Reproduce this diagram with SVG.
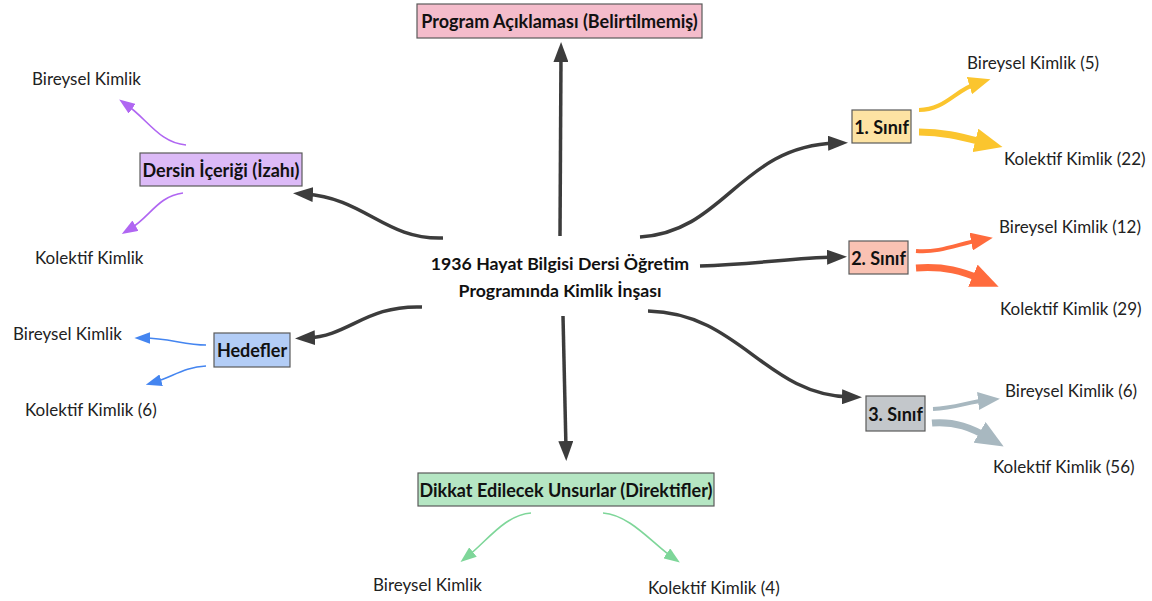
<svg xmlns="http://www.w3.org/2000/svg" width="1152" height="601" viewBox="0 0 1152 601">
<style>
.box{stroke:#5a5a5a;stroke-width:1.2}
.nt{font-family:Lato,"Liberation Sans",sans-serif;font-weight:bold;font-size:18px;fill:#111;text-anchor:middle;dominant-baseline:central}
.lt{font-family:Lato,"Liberation Sans",sans-serif;font-size:17px;fill:#222;dominant-baseline:central}
.ct{font-family:Lato,"Liberation Sans",sans-serif;font-weight:bold;font-size:17.7px;fill:#111;text-anchor:middle;dominant-baseline:central}
.dk{fill:none;stroke:#3c3c3c;stroke-width:3.5;marker-end:url(#mDk)}
.c{fill:none}
</style>
<defs>
<marker id="mDk" markerUnits="userSpaceOnUse" viewBox="0 0 20 15" markerWidth="20" markerHeight="15" refX="8" refY="7.5" orient="auto"><path d="M0,0 L20,7.5 L0,15 z" fill="#3c3c3c"/></marker>
<marker id="mPu" markerUnits="userSpaceOnUse" viewBox="0 0 16 12" markerWidth="16" markerHeight="12" refX="6.4" refY="6" orient="auto"><path d="M0,0 L16,6 L0,12 z" fill="#b066f2"/></marker>
<marker id="mBl" markerUnits="userSpaceOnUse" viewBox="0 0 16 12" markerWidth="16" markerHeight="12" refX="6.4" refY="6" orient="auto"><path d="M0,0 L16,6 L0,12 z" fill="#4485f0"/></marker>
<marker id="mGr" markerUnits="userSpaceOnUse" viewBox="0 0 16 12" markerWidth="16" markerHeight="12" refX="6.4" refY="6" orient="auto"><path d="M0,0 L16,6 L0,12 z" fill="#7ed699"/></marker>
<marker id="mYs" markerUnits="userSpaceOnUse" viewBox="0 0 22 18" markerWidth="22" markerHeight="18" refX="9" refY="9" orient="auto"><path d="M0,0 L22,9 L0,18 z" fill="#fbc52e"/></marker>
<marker id="mYl" markerUnits="userSpaceOnUse" viewBox="0 0 28 24" markerWidth="28" markerHeight="24" refX="11" refY="12" orient="auto"><path d="M0,0 L28,12 L0,24 z" fill="#fbc52e"/></marker>
<marker id="mOs" markerUnits="userSpaceOnUse" viewBox="0 0 22 18" markerWidth="22" markerHeight="18" refX="9" refY="9" orient="auto"><path d="M0,0 L22,9 L0,18 z" fill="#ff6b3d"/></marker>
<marker id="mOl" markerUnits="userSpaceOnUse" viewBox="0 0 28 24" markerWidth="28" markerHeight="24" refX="11" refY="12" orient="auto"><path d="M0,0 L28,12 L0,24 z" fill="#ff6b3d"/></marker>
<marker id="mGs" markerUnits="userSpaceOnUse" viewBox="0 0 22 18" markerWidth="22" markerHeight="18" refX="9" refY="9" orient="auto"><path d="M0,0 L22,9 L0,18 z" fill="#a8b8c0"/></marker>
<marker id="mGl" markerUnits="userSpaceOnUse" viewBox="0 0 28 24" markerWidth="28" markerHeight="24" refX="11" refY="12" orient="auto"><path d="M0,0 L28,12 L0,24 z" fill="#a8b8c0"/></marker>
</defs>
<rect width="1152" height="601" fill="#fff"/>

<g id="connectors">
<path class="dk" d="M560,236 L561,54"/>
<path class="dk" d="M443,238 C385,240 365,198 305,194"/>
<path class="dk" d="M422,307 C365,305 350,336 307,338"/>
<path class="dk" d="M563,316 L566,449"/>
<path class="dk" d="M640,237 C725,232 740,146 836,143"/>
<path class="dk" d="M700,266 C760,264 790,258 835,257"/>
<path class="dk" d="M648,311 C740,313 765,395 850,397"/>

<path class="c" stroke="#b066f2" stroke-width="1.6" marker-end="url(#mPu)" d="M186,145 C160,143 148,120 127,105"/>
<path class="c" stroke="#b066f2" stroke-width="1.6" marker-end="url(#mPu)" d="M183,193 C158,196 150,217 130,229"/>
<path class="c" stroke="#4485f0" stroke-width="1.6" marker-end="url(#mBl)" d="M206,345 C185,345 168,338 144,338"/>
<path class="c" stroke="#4485f0" stroke-width="1.6" marker-end="url(#mBl)" d="M206,366 C185,367 172,377 155,382"/>
<path class="c" stroke="#7ed699" stroke-width="1.6" marker-end="url(#mGr)" d="M531,513 C505,515 488,540 468,556"/>
<path class="c" stroke="#7ed699" stroke-width="1.6" marker-end="url(#mGr)" d="M603,513 C630,515 652,543 672,557"/>
<path class="c" stroke="#fbc52e" stroke-width="4" marker-end="url(#mYs)" d="M919,110 C945,110 955,90 978,83"/>
<path class="c" stroke="#fbc52e" stroke-width="7" marker-end="url(#mYl)" d="M919,132 C945,132 962,137 986,143"/>
<path class="c" stroke="#ff6b3d" stroke-width="4" marker-end="url(#mOs)" d="M916,251 C940,253 958,244 980,240"/>
<path class="c" stroke="#ff6b3d" stroke-width="7" marker-end="url(#mOl)" d="M916,268 C945,266 962,271 983,280"/>
<path class="c" stroke="#a8b8c0" stroke-width="4" marker-end="url(#mGs)" d="M933,409 C955,408 968,402 987,400"/>
<path class="c" stroke="#a8b8c0" stroke-width="7" marker-end="url(#mGl)" d="M932,423 C955,421 972,428 989,438"/>
</g>

<g id="center">
<text class="ct" x="560" y="263">1936 Hayat Bilgisi Dersi Öğretim</text>
<text class="ct" x="560" y="290">Programında Kimlik İnşası</text>
</g>

<g id="program">
<rect class="box" x="417" y="4" width="285" height="34" fill="#f4bccb"/>
<text class="nt" x="559.5" y="21">Program Açıklaması (Belirtilmemiş)</text>
</g>

<g id="dersin">
<rect class="box" x="140" y="153" width="162" height="33" fill="#dcbaf7"/>
<text class="nt" x="221" y="170">Dersin İçeriği (İzahı)</text>
<text class="lt" x="32" y="78">Bireysel Kimlik</text>
<text class="lt" x="35" y="257">Kolektif Kimlik</text>
</g>

<g id="hedefler">
<rect class="box" x="214" y="333" width="76" height="34" fill="#b3cdf6"/>
<text class="nt" x="252" y="350">Hedefler</text>
<text class="lt" x="13" y="333">Bireysel Kimlik</text>
<text class="lt" x="25" y="409">Kolektif Kimlik (6)</text>
</g>

<g id="dikkat">
<rect class="box" x="418" y="473" width="296" height="33" fill="#b5e6c3"/>
<text class="nt" x="566" y="490">Dikkat Edilecek Unsurlar (Direktifler)</text>
<text class="lt" x="373" y="584">Bireysel Kimlik</text>
<text class="lt" x="648" y="587">Kolektif Kimlik (4)</text>
</g>

<g id="sinif1">
<rect class="box" x="852" y="110" width="59" height="33" fill="#fde3a3"/>
<text class="nt" x="881.5" y="127">1. Sınıf</text>
<text class="lt" x="967" y="62">Bireysel Kimlik (5)</text>
<text class="lt" x="1004" y="158">Kolektif Kimlik (22)</text>
</g>

<g id="sinif2">
<rect class="box" x="849" y="241" width="59" height="33" fill="#f9c2b3"/>
<text class="nt" x="878.5" y="257.5">2. Sınıf</text>
<text class="lt" x="999" y="226">Bireysel Kimlik (12)</text>
<text class="lt" x="1000" y="308">Kolektif Kimlik (29)</text>
</g>

<g id="sinif3">
<rect class="box" x="866" y="396" width="59" height="35" fill="#c3c7cb"/>
<text class="nt" x="895.5" y="413.5">3. Sınıf</text>
<text class="lt" x="1005" y="390">Bireysel Kimlik (6)</text>
<text class="lt" x="993" y="466">Kolektif Kimlik (56)</text>
</g>
</svg>
